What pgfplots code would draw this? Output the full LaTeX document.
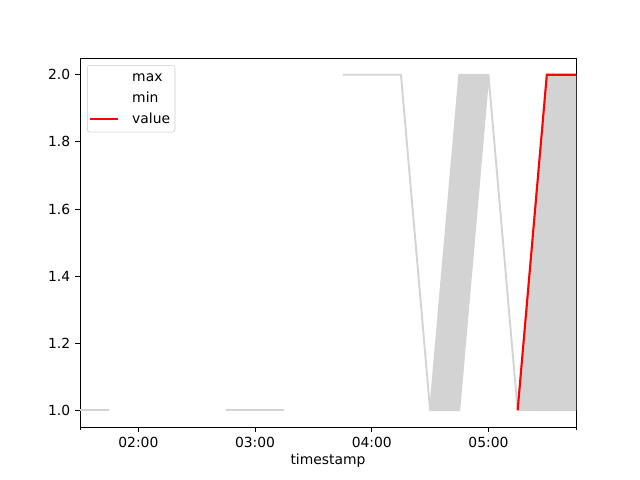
\documentclass[border=0pt]{standalone}
\usepackage{pgfplots}
\pgfplotsset{compat=1.18}
\usepackage{fontspec}
\setmainfont{DejaVu Sans}
\definecolor{lgray}{HTML}{D3D3D3}
\definecolor{legedge}{HTML}{CCCCCC}
\begin{document}
\fontsize{10}{12}\selectfont
\begin{tikzpicture}
\begin{axis}[
  at={(0,0)}, anchor=south west,
  scale only axis, width=357.12pt, height=265.68pt,
  xmin=1.5, xmax=5.75, ymin=0.95, ymax=2.05,
  xtick={2,3,4,5}, xticklabels={02:00,03:00,04:00,05:00},
  minor xtick={1.5,5.75},
  ytick={1.0,1.2,1.4,1.6,1.8,2.0},
  yticklabel style={/pgf/number format/.cd, fixed, fixed zerofill, precision=1},
  /pgf/number format/assume math mode=true,
  tick align=outside, major tick length=3.5pt, minor tick length=2pt,
  tick style={black, line width=0.6pt},
  xtick pos=bottom, ytick pos=left,
  axis line style={line width=0.6pt},
  xlabel={timestamp},
  xlabel style={yshift=2pt},
  ticklabel style={font=\fontsize{10}{12}\selectfont},
  legend style={draw=legedge, rounded corners=2pt, font=\fontsize{10}{12}\selectfont,
    inner xsep=1.5pt, inner ysep=2.5pt, row sep=1.3pt,
    nodes={text height=7.5pt, text depth=2pt, inner xsep=2pt},
    at={(0.014,0.981)}, anchor=north west},
  legend cell align=left,
  legend image code/.code={\draw[#1] (0pt,0pt) -- (20pt,0pt); \path (27.4pt,0pt);},
  clip=true,
]
\addplot[white, line width=1.5pt] coordinates {(1.5,1)(1.75,1)};
\addlegendentry{max}
\addplot[white, line width=1.5pt] coordinates {(1.5,1)(1.75,1)};
\addlegendentry{min}
\addplot[lgray, fill=lgray, line width=1.35pt, forget plot] coordinates {(1.5,1)(1.75,1)(1.75,1)(1.5,1)} -- cycle;
\addplot[lgray, fill=lgray, line width=1.35pt, forget plot] coordinates {(2.75,1)(3.0,1)(3.25,1)(3.25,1)(3.0,1)(2.75,1)} -- cycle;
\addplot[lgray, fill=lgray, line width=1.35pt, forget plot] coordinates {
 (3.75,2)(4.0,2)(4.25,2)(4.5,1)(4.75,2)(5.0,2)(5.25,1)(5.5,2)(5.75,2)
 (5.75,1)(5.5,1)(5.25,1)(5.0,2)(4.75,1)(4.5,1)(4.25,2)(4.0,2)(3.75,2)} -- cycle;
\addplot[red, line width=1.5pt] coordinates {(5.25,1)(5.5,2)(5.75,2)};
\addlegendentry{value}
\end{axis}
\path[use as bounding box] (-57.6pt,-38.16pt) rectangle (403.2pt,307.44pt);
\end{tikzpicture}
\end{document}
